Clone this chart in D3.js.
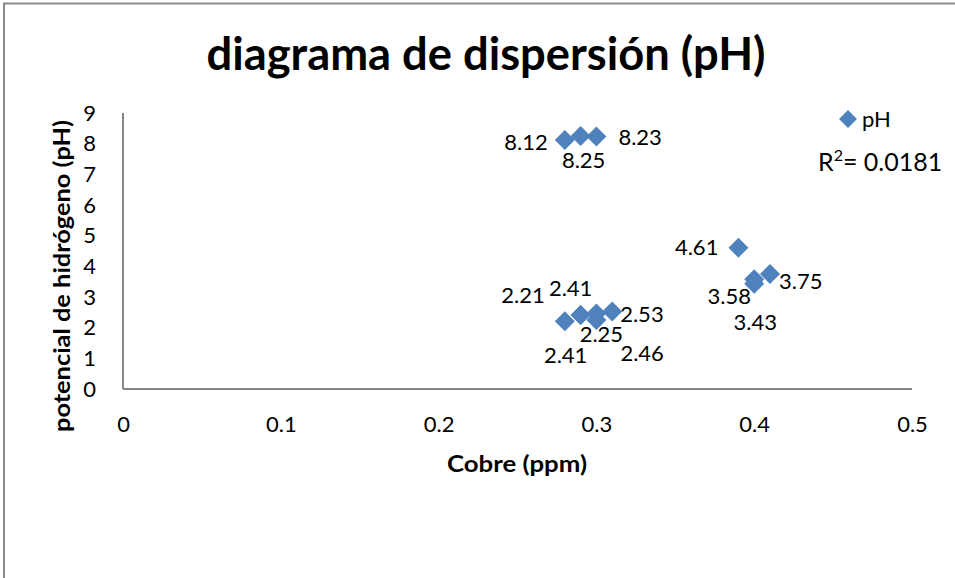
<!DOCTYPE html>
<html>
<head>
<meta charset="utf-8">
<script src="https://cdn.jsdelivr.net/npm/d3@7"></script>
<style>
  html, body { margin: 0; padding: 0; background: #fff; }
  svg { display: block; font-family: Lato, "Open Sans", sans-serif; }
</style>
</head>
<body>
<svg id="chart" width="955" height="578"></svg>
<script>
// Copper concentration (ppm) and measured pH for each sample
const cobre = [0.28, 0.29, 0.30, 0.28, 0.29, 0.30, 0.29, 0.30, 0.31, 0.39, 0.40, 0.40, 0.41];
const ph    = [8.12, 8.25, 8.23, 2.21, 2.41, 2.25, 2.41, 2.46, 2.53, 4.61, 3.58, 3.43, 3.75];

// Where each value label sits relative to its marker
const labelDx     = [-17,   3,  22, -20, -10,   5, -15,  24,   8, -20, -25,   1,   9];
const labelDy     = [  2,  24,   1, -26, -27,  14,  40,  40,   3,   0,  17,  38,   7];
const labelAnchor = ["end", "middle", "start", "end", "middle", "middle", "middle", "start", "start", "end", "middle", "middle", "start"];

const xTicks = [0, 0.1, 0.2, 0.3, 0.4, 0.5];
const yTicks = [0, 1, 2, 3, 4, 5, 6, 7, 8, 9];

const titleText = "diagrama de dispersión (pH)";
const xTitle = "Cobre (ppm)";
const yTitle = "potencial de hidrógeno (pH)";
const seriesName = "pH";
const rSquared = "0.0181";

const svg = d3.select("#chart");
const blue = "#4F81BD";
const axisGray = "#868686";

// Outer chart frame
svg.append("rect")
  .attr("x", 4).attr("y", 3.5)
  .attr("width", 1000).attr("height", 1000)
  .attr("fill", "none").attr("stroke", "#8a8a8a").attr("stroke-width", 2);

const x = d3.scaleLinear().domain([0, 0.5]).range([123, 912]);
const y = d3.scaleLinear().domain([0, 9]).range([389, 113]);

// Title
svg.append("text")
  .attr("x", 486).attr("y", 70)
  .attr("text-anchor", "middle")
  .attr("font-size", 45).attr("font-weight", "bold")
  .attr("textLength", 559).attr("lengthAdjust", "spacingAndGlyphs")
  .text(titleText);

// Axes
const gx = svg.append("g")
  .attr("transform", `translate(0,${y(0)})`)
  .call(d3.axisBottom(x).tickValues(xTicks).tickSize(0).tickPadding(27)
    .tickFormat(d => d === 0 ? "0" : d3.format(".1f")(d)));
const gy = svg.append("g")
  .attr("transform", `translate(${x(0)},0)`)
  .call(d3.axisLeft(y).tickValues(yTicks).tickSize(0).tickPadding(27));

[gx, gy].forEach(g => {
  g.select(".domain").attr("stroke", axisGray).attr("stroke-width", 2);
  g.selectAll("text").attr("font-size", 22).attr("fill", "#000")
    .attr("font-family", "Lato, 'Open Sans', sans-serif");
});
// Only the bottom and left lines of the plot area are shown
gx.select(".domain").attr("d", `M${x(0)},0H${x(0.5)}`);
gy.select(".domain").attr("d", `M0,${y(9)}V${y(0)}`);

// Axis titles
svg.append("text")
  .attr("x", 517).attr("y", 472)
  .attr("text-anchor", "middle")
  .attr("font-size", 22).attr("font-weight", "bold")
  .attr("textLength", 140).attr("lengthAdjust", "spacingAndGlyphs")
  .text(xTitle);
svg.append("text")
  .attr("transform", `translate(70,${276}) rotate(-90)`)
  .attr("text-anchor", "middle")
  .attr("font-size", 22).attr("font-weight", "bold")
  .attr("textLength", 312).attr("lengthAdjust", "spacingAndGlyphs")
  .text(yTitle);

// Markers: diamonds (rotated squares)
const diamond = d3.symbol().type(d3.symbolSquare).size(200);
const points = cobre.map((c, i) => ({ c, p: ph[i], i }));

svg.append("g").selectAll("path")
  .data(points)
  .join("path")
  .attr("d", diamond)
  .attr("fill", blue)
  .attr("transform", d => `translate(${x(d.c)},${y(d.p)}) rotate(45)`);

// Value labels
svg.append("g").selectAll("text")
  .data(points)
  .join("text")
  .attr("x", d => x(d.c) + labelDx[d.i])
  .attr("y", d => y(d.p) + labelDy[d.i])
  .attr("dy", "0.35em")
  .attr("text-anchor", d => labelAnchor[d.i])
  .attr("font-size", 22)
  .text(d => d3.format(".2f")(d.p));

// Legend
const leg = svg.append("g");
leg.append("path")
  .attr("d", d3.symbol().type(d3.symbolSquare).size(160))
  .attr("fill", blue)
  .attr("transform", "translate(848,119) rotate(45)");
leg.append("text")
  .attr("x", 862).attr("y", 119).attr("dy", "0.35em")
  .attr("font-size", 22)
  .text(seriesName);

// R² annotation
const r2 = svg.append("text")
  .attr("x", 818).attr("y", 162).attr("dy", "0.35em")
  .attr("font-size", 25);
r2.append("tspan").text("R");
r2.append("tspan").attr("font-size", 16).attr("dy", "-0.6em").text("2");
r2.append("tspan").attr("dy", "0.4em").text("= " + rSquared);
</script>
</body>
</html>
